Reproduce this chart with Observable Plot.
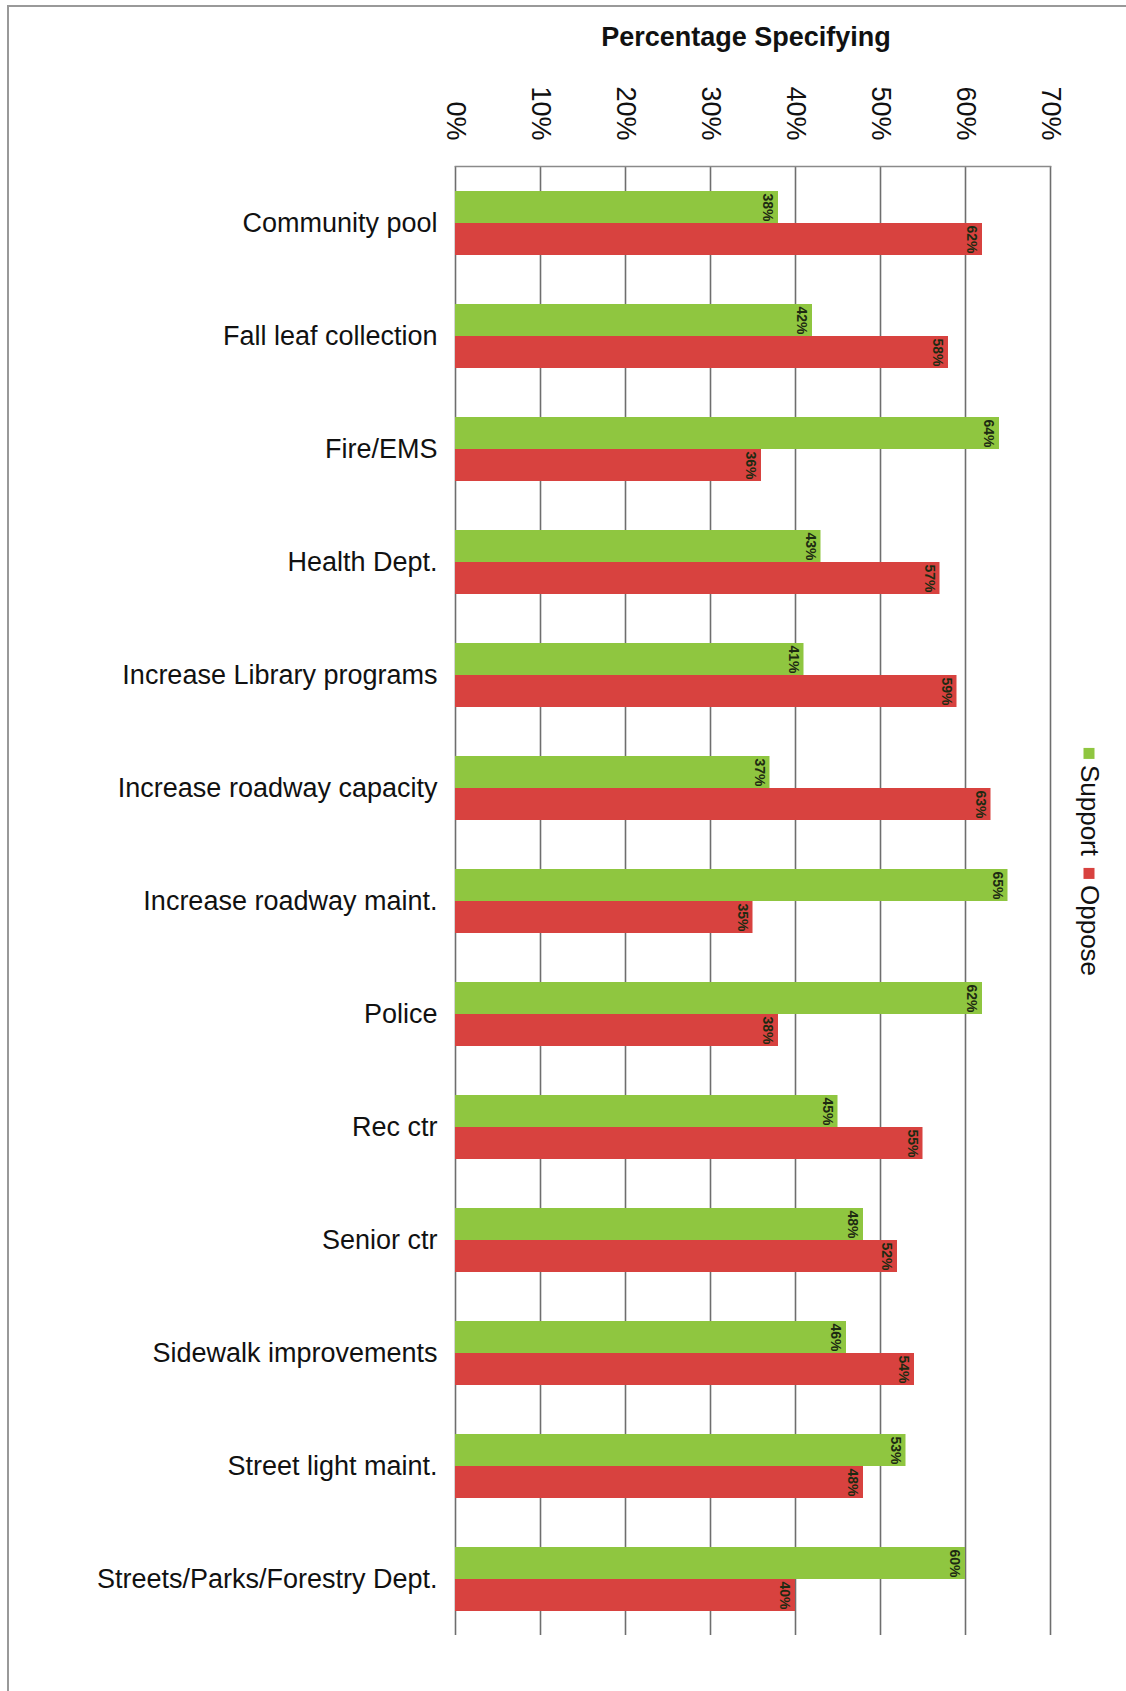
<!DOCTYPE html>
<html>
<head>
<meta charset="utf-8">
<script src="https://cdn.jsdelivr.net/npm/d3@7"></script>
<script src="https://cdn.jsdelivr.net/npm/@observablehq/plot@0.6"></script>
<style>
  html, body { margin: 0; padding: 0; background: #fff; }
  body { width: 1126px; height: 1691px; position: relative; overflow: hidden; font-family: "Liberation Sans", Arial, sans-serif; }
  #frame { position: absolute; left: 7px; top: 5px; width: 1130px; height: 1700px; border-top: 2px solid #999; border-left: 2px solid #999; box-sizing: border-box; pointer-events: none; }
  #title { position: absolute; left: 0; top: 0; width: 1126px; height: 62px; }
  #title span { position: absolute; left: 746px; top: 22px; transform: translateX(-50%); font-weight: bold; font-size: 27px; color: #111; white-space: nowrap; }
  #chart { position: absolute; left: 0; top: 62px; }
  #legend { position: absolute; left: 1089px; top: 862px; transform: translate(-50%, -50%) rotate(90deg); white-space: nowrap; font-size: 26px; color: #111; display: flex; align-items: center; gap: 12px; }
  #legend .sw { display: inline-block; width: 11px; height: 11px; margin-right: 6px; }
  #legend .item { display: flex; align-items: center; }
</style>
</head>
<body>
<div id="frame"></div>
<div id="title"><span>Percentage Specifying</span></div>
<div id="chart"></div>
<div id="legend"></div>
<script>
const categories = [
  "Community pool",
  "Fall leaf collection",
  "Fire/EMS",
  "Health Dept.",
  "Increase Library programs",
  "Increase roadway capacity",
  "Increase roadway maint.",
  "Police",
  "Rec ctr",
  "Senior ctr",
  "Sidewalk improvements",
  "Street light maint.",
  "Streets/Parks/Forestry Dept."
];
const seriesNames = ["Support", "Oppose"];
const seriesColors = ["#8fc640", "#d8423f"];
const supportValues = [38, 42, 64, 43, 41, 37, 65, 62, 45, 48, 46, 53, 60];
const opposeValues  = [62, 58, 36, 57, 59, 63, 35, 38, 55, 52, 54, 48, 40];
const xTicks = [0, 10, 20, 30, 40, 50, 60, 70];

const data = [];
categories.forEach((c, i) => {
  data.push({category: c, series: "Support", value: supportValues[i]});
  data.push({category: c, series: "Oppose", value: opposeValues[i]});
});

const font = "Liberation Sans, Arial, sans-serif";

const chart = Plot.plot({
  width: 1126,
  height: 1629,
  marginLeft: 455,
  marginRight: 76,
  marginTop: 99,
  marginBottom: 52,
  style: {fontFamily: font, background: "transparent", color: "#111"},
  x: {domain: [0, 70]},
  fy: {domain: categories, padding: 0},
  y: {domain: seriesNames, paddingInner: 0, paddingOuter: 0.73, axis: null},
  color: {domain: seriesNames, range: seriesColors},
  marks: [
    Plot.gridX(xTicks, {stroke: "#6e6e6e", strokeOpacity: 1, strokeWidth: 1.6}),
    Plot.frame({anchor: "top", facetAnchor: "top", stroke: "#8a8a8a", strokeWidth: 1.6}),
    Plot.barX(data, {fy: "category", y: "series", x: "value", fill: "series"}),
    Plot.text(data, {
      fy: "category", y: "series", x: "value",
      text: d => d.value + "%",
      rotate: 90, dx: -11, textAnchor: "middle",
      fontSize: 14, fontWeight: "bold", fill: "#1d2a12"
    }),
    Plot.axisX({
      anchor: "top", ticks: xTicks, tickFormat: d => d + "%",
      tickRotate: 90, tickSize: 0, tickPadding: 26, fontSize: 27, label: null
    }),
    Plot.axisFy({
      anchor: "left", tickSize: 0, tickPadding: 18, fontSize: 27, label: null
    })
  ]
});
document.getElementById("chart").appendChild(chart);

const legend = document.getElementById("legend");
seriesNames.forEach((s, i) => {
  const item = document.createElement("span");
  item.className = "item";
  const sw = document.createElement("span");
  sw.className = "sw";
  sw.style.background = seriesColors[i];
  item.appendChild(sw);
  item.appendChild(document.createTextNode(s));
  legend.appendChild(item);
});
</script>
</body>
</html>
